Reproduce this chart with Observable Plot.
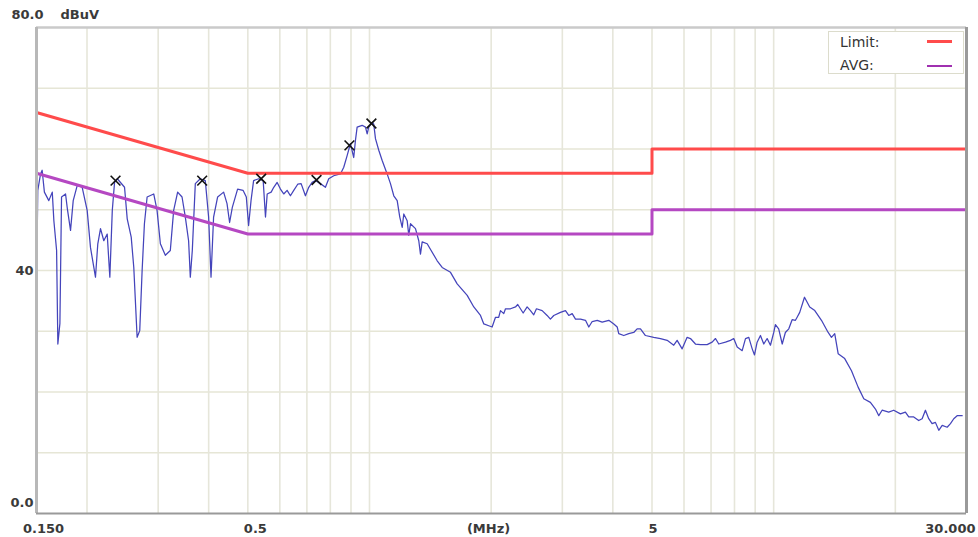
<!DOCTYPE html>
<html>
<head>
<meta charset="utf-8">
<script src="https://cdn.jsdelivr.net/npm/d3@7"></script>
<script src="https://cdn.jsdelivr.net/npm/@observablehq/plot@0.6"></script>
<style>
  html, body { margin: 0; padding: 0; background: #fff; }
  #wrap { position: relative; width: 978px; height: 537px; }
  #legend { position: absolute; left: 828px; top: 31px; width: 136px; height: 43px;
    border: 1px solid #dcdccc; background: #fff; font-family: "DejaVu Sans", sans-serif;
    font-size: 14px; color: #333; box-sizing: border-box; }
  .row { position: absolute; left: 11px; }
  .sw { position: absolute; left: 98px; width: 25px; }
</style>
</head>
<body>
<div id="wrap">
  <div id="chart"></div>
  <div id="legend"></div>
</div>
<script>
// ---- data ----
const freq = [
  0.150,0.1511,0.1535,0.1549,0.1569,0.1609,0.1641,0.1656,0.1682,0.1694,0.1714,0.1730,0.1770,0.1788,0.1821,0.1849,0.1892,0.1946,0.2002,0.2040,
  0.2099,0.2127,0.2160,0.2201,0.2244,0.2278,0.2310,0.2340,0.2377,0.2477,0.2515,0.2573,0.2611,0.2661,0.2701,0.2738,0.2774,0.2817,0.2925,0.2981,
  0.3038,0.3125,0.3215,0.3277,0.3352,0.3437,0.3502,0.3568,0.3603,0.3644,0.3707,0.3814,0.3924,0.3999,0.4054,0.4114,0.4210,0.4356,0.4441,0.4507,
  0.4577,0.4717,0.4865,0.4957,0.5022,0.5092,0.5167,
  0.5322,0.5457,0.5529,0.5583,0.5711,0.5796,0.5909,0.6021,0.6135,0.6254,0.6373,0.6495,0.6644,0.6774,0.6942,0.7074,0.7212,0.7350,0.7561,0.7780,
  0.7928,0.8156,0.8474,0.8636,0.8804,0.8970,0.9141,0.9230,0.9320,0.9590,0.9773,0.9868,0.9957,1.0152,1.0246,1.0346,1.0543,1.0749,1.1058,1.1269,
  1.1484,1.1709,1.1883,1.2048,1.2157,1.2394,1.2509,1.2630,1.2995,1.3241,1.3370,1.3500,1.3891,
  1.4705,1.5130,1.5864,1.6480,1.7448,1.8116,
  1.882,1.918,1.973,2.011,2.050,2.088,2.109,2.149,2.170,2.233,2.297,2.327,2.363,2.400,2.455,2.502,2.549,2.589,2.674,2.751,
  2.803,2.857,2.968,3.054,3.112,3.173,3.234,3.327,3.423,3.488,3.556,3.659,3.765,3.909,4.022,4.101,4.137,4.257,4.380,4.506,4.594,
  4.682,4.817,5.050,5.247,5.451,5.660,5.770,5.937,6.108,6.225,6.405,6.591,6.846,7.044,7.179,7.314,7.599,7.818,7.966,8.124,
  8.358,8.517,8.678,8.849,8.966,9.101,9.275,9.452,9.635,9.818,10.005,10.10,10.29,10.50,10.69,10.90,11.11,11.32,11.43,
  11.60,11.92,12.28,12.64,13.13,13.64,13.90,14.16,14.44,14.99,15.58,16.18,
  16.71,17.35,17.86,18.20,18.55,19.26,19.82,20.59,21.18,21.59,22.21,22.85,23.30,23.74,24.19,24.66,25.13,25.62,26.12,26.87,
  27.38,27.90,28.44,29.27
];
const level = [
  36.7,53.2,55.9,56.5,52.9,51.5,52.9,48.2,43.3,27.9,31.3,52.1,52.6,50.2,46.6,51.5,54.0,53.7,49.9,43.8,
  38.9,44.4,46.9,44.9,46.0,38.9,49.9,54.5,55.1,53.7,48.5,45.5,40.5,29.0,30.1,40.0,47.7,52.1,52.6,49.9,
  44.4,42.5,43.3,49.9,52.9,52.1,48.8,44.9,38.9,43.3,54.3,55.1,54.8,48.8,38.9,48.8,52.1,52.9,51.0,47.9,
  50.4,53.4,53.2,52.1,47.4,51.5,54.8,
  55.1,54.8,48.8,52.6,52.9,53.7,54.5,53.4,52.6,53.2,52.3,53.2,54.2,54.3,52.3,53.7,54.5,54.8,54.3,53.7,
  55.1,55.6,55.9,57.0,58.9,60.9,58.6,61.4,63.6,63.9,63.6,62.5,63.6,64.4,64.1,61.7,59.8,58.1,55.9,54.3,
  52.3,51.5,48.8,47.1,49.3,48.2,45.8,47.7,46.9,44.9,42.7,44.7,44.4,
  41.6,40.5,39.7,37.8,35.9,34.0,
  32.6,31.2,30.9,30.7,32.3,32.3,33.4,32.9,33.7,33.7,34.0,34.4,33.7,33.0,34.0,33.4,32.7,33.7,33.4,32.6,
  32.0,32.6,33.1,33.4,32.6,32.9,32.0,32.0,31.8,30.7,31.6,31.8,31.5,31.8,31.2,30.7,29.6,29.3,29.6,29.8,30.4,
  30.4,29.3,29.0,28.8,28.5,27.7,28.5,27.1,29.0,28.8,27.9,27.8,27.8,28.2,28.8,27.9,28.2,28.5,28.8,27.4,
  26.8,28.8,29.0,27.1,26.1,28.2,29.3,27.9,28.8,27.7,29.8,31.1,30.4,27.9,29.8,30.4,31.9,31.8,32.3,
  33.1,35.6,34.0,33.4,31.8,29.8,29.0,29.6,26.3,25.5,23.5,20.8,
  18.9,18.3,17.2,16.1,17.0,16.7,17.0,16.4,16.7,15.9,15.9,15.3,15.6,17.0,15.6,14.8,15.0,13.7,14.5,14.2,
  14.8,15.6,16.1,16.1
];
// CISPR-style limit lines
const limitFreq  = [0.15, 0.5, 5, 5, 30];
const limitLevel = [66, 56, 56, 60, 60];
const avgFreq    = [0.15, 0.5, 5, 5, 30];
const avgLevel   = [56, 46, 46, 50, 50];
// peak markers
const peakFreq  = [0.2353, 0.3855, 0.5395, 0.7395, 0.892, 1.011];
const peakLevel = [54.8, 54.8, 55.1, 54.9, 60.6, 64.2];
// grid
const gridFreq  = [0.2,0.3,0.4,0.5,0.6,0.7,0.8,0.9,1,2,3,4,5,6,7,8,9,10,20];
const gridLevel = [10,20,30,40,50,60,70];
// tick labels
const xTickFreq = [0.15, 0.5, 5, 30];
const xTickText = ["0.150", "0.5", "5", "30.000"];
const xUnit = "(MHz)";
const xUnitFreq = 1.97;
const yTickLevel = [80, 40, 0];
const yTickText = ["80.0", "40", "0.0"];
const yUnit = "dBuV";
const legendNames = ["Limit:", "AVG:"];

const trace = freq.map((f, i) => ({f, v: level[i]}));
const lim = limitFreq.map((f, i) => ({f, v: limitLevel[i]}));
const avg = avgFreq.map((f, i) => ({f, v: avgLevel[i]}));
const peaks = peakFreq.map((f, i) => ({f, v: peakLevel[i]}));

const font = "DejaVu Sans, sans-serif";
const lblStyle = {fontFamily: font, fontSize: 13, fontWeight: "bold", fill: "#3a3a3a"};

const chart = Plot.plot({
  width: 978, height: 537,
  marginLeft: 36, marginRight: 12, marginTop: 27, marginBottom: 24,
  x: {type: "log", domain: [0.15, 30], axis: null},
  y: {domain: [0, 80], axis: null},
  style: {background: "#fff", overflow: "visible"},
  marks: [
    Plot.ruleY(gridLevel, {stroke: "#e6e6d6", strokeWidth: 1.6}),
    Plot.ruleX(gridFreq, {stroke: "#e6e6da", strokeWidth: 1.6}),
    Plot.line(trace, {x: "f", y: "v", stroke: "#4444bb", strokeWidth: 1.25, strokeLinejoin: "round"}),
    Plot.line(avg, {x: "f", y: "v", stroke: "#b548c2", strokeWidth: 3}),
    Plot.line(lim, {x: "f", y: "v", stroke: "#ff4b4b", strokeWidth: 3}),
    Plot.dot(peaks, {x: "f", y: "v", symbol: "times", r: 4.5, stroke: "#111", strokeWidth: 1.6}),
    // frame
    Plot.ruleY([80], {stroke: "#cacaca", strokeWidth: 2.5}),
    Plot.ruleX([0.15], {stroke: "#b8b8b8", strokeWidth: 3}),
    Plot.ruleX([30], {stroke: "#9a9a9a", strokeWidth: 3}),
    Plot.ruleY([0], {stroke: "#9a9a9a", strokeWidth: 2}),
    // y labels
    Plot.text([yTickText[0]], {x: () => 0.15, y: () => yTickLevel[0], text: d => d, textAnchor: "end", dx: 7, dy: -13, ...lblStyle}),
    Plot.text([yUnit], {x: () => 0.15, y: () => yTickLevel[0], text: d => d, textAnchor: "start", dx: 24, dy: -13, ...lblStyle, letterSpacing: "2.5px"}),
    Plot.text([yTickText[1]], {x: () => 0.15, y: () => yTickLevel[1], text: d => d, textAnchor: "end", dx: -3, dy: 0, ...lblStyle}),
    Plot.text([yTickText[2]], {x: () => 0.15, y: () => yTickLevel[2], text: d => d, textAnchor: "end", dx: -3, dy: -11, ...lblStyle}),
    // x labels
    Plot.text([xTickText[0]], {x: () => xTickFreq[0], y: () => 0, text: d => d, textAnchor: "middle", dx: 7, dy: 15, ...lblStyle}),
    Plot.text([xTickText[1]], {x: () => xTickFreq[1], y: () => 0, text: d => d, textAnchor: "start", dx: -4, dy: 15, ...lblStyle}),
    Plot.text([xUnit], {x: () => xUnitFreq, y: () => 0, text: d => d, textAnchor: "middle", dy: 15, ...lblStyle}),
    Plot.text([xTickText[2]], {x: () => xTickFreq[2], y: () => 0, text: d => d, textAnchor: "middle", dx: 1, dy: 15, ...lblStyle}),
    Plot.text([xTickText[3]], {x: () => xTickFreq[3], y: () => 0, text: d => d, textAnchor: "end", dx: 9, dy: 15, ...lblStyle})
  ]
});
document.getElementById("chart").appendChild(chart);

// legend (inside plot area, top-right)
const legendColors = ["#ff4b4b", "#a030b0"];
const legendWidths = [3, 2];
const lg = document.getElementById("legend");
legendNames.forEach((name, i) => {
  const t = document.createElement("div");
  t.className = "row"; t.textContent = name;
  t.style.top = (i === 0 ? 2 : 25) + "px";
  lg.appendChild(t);
  const s = document.createElement("div");
  s.className = "sw";
  s.style.top = (i === 0 ? 8 : 33) + "px";
  s.style.height = legendWidths[i] + "px";
  s.style.background = legendColors[i];
  lg.appendChild(s);
});
</script>
</body>
</html>
